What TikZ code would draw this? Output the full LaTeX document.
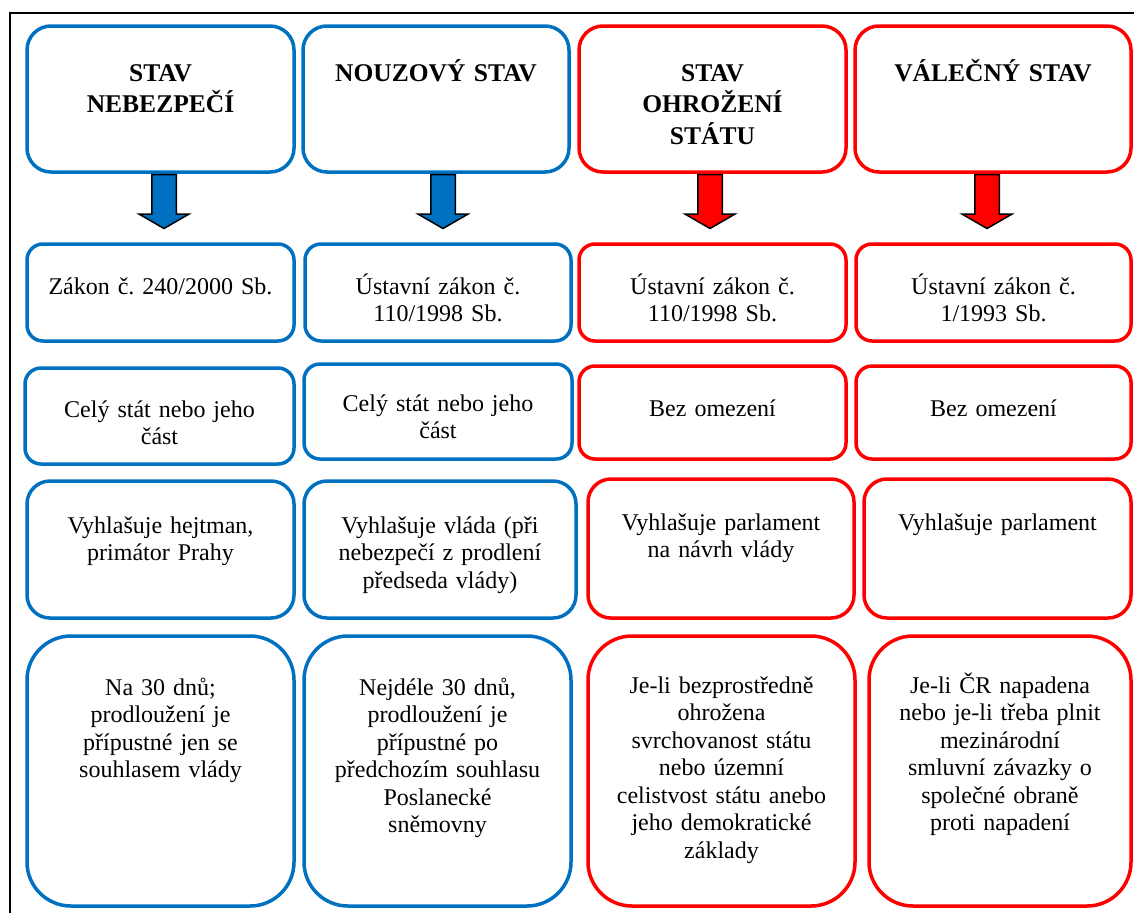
\documentclass[tikz,border=0pt]{standalone}
\usepackage{fontspec}
\setmainfont{Liberation Serif}
\frenchspacing
\usepackage{tikz}
\usetikzlibrary{shapes.arrows}
\definecolor{cblue}{RGB}{0,112,192}
\definecolor{cred}{RGB}{255,0,0}
\tikzset{
  box/.style = {draw, line width=3.5pt, inner sep=0pt, rounded corners=#1},
  box_b/.style = {box=#1, draw=cblue},% modry ramecek
  box_r/.style = {box=#1, draw=cred},% cerveny ramecek
  txt/.style = {align=center, text width=250pt, inner sep=0pt, anchor=base,
    font=\fontsize{24}{27.5}\selectfont},
  ttl/.style = {txt, font=\bfseries\fontsize{25.5}{31.5}\selectfont},% nadpis
  barrow/.style = {single arrow, draw=black, fill=#1, line width=1.5pt,
    inner xsep=0pt, inner ysep=11.5pt, single arrow head extend=12.5pt,
    single arrow tip angle=120, minimum height=54pt, rotate=-90, anchor=tail}
}

\begin{document}
\begin{tikzpicture}[x=1pt,y=1pt]
\useasboundingbox (0,0) rectangle (1134,-913);
\draw[line width=2.5pt] (10,-913) -- (10,-13) -- (1134,-13);

% nadpisy
\node [box_b=24pt, minimum width=267pt, minimum height=146pt] (h1) at (160.5,-99) {};
\node [box_b=24pt, minimum width=266pt, minimum height=146pt] (h2) at (436,-99) {};
\node [box_r=24pt, minimum width=267pt, minimum height=146pt] (h3) at (712.5,-99) {};
\node [box_r=24pt, minimum width=276pt, minimum height=146pt] (h4) at (993,-99) {};
\node at (h1.north) [ttl, yshift=-57pt] (h1t) {STAV\\NEBEZPEČÍ};
\node at (h2.north) [ttl, yshift=-57pt] (h2t) {NOUZOVÝ STAV};
\node at (h3.north) [ttl, yshift=-57pt] (h3t) {STAV\\OHROŽENÍ\\STÁTU};
\node at (h4.north) [ttl, yshift=-57pt] (h4t) {VÁLEČNÝ STAV};

% sipky
\node at ([xshift=3.5pt]h1.south) [barrow=cblue] (ar1) {};
\node at ([xshift=7pt]h2.south) [barrow=cblue] (ar2) {};
\node at ([xshift=-2.5pt]h3.south) [barrow=cred] (ar3) {};
\node at ([xshift=-6pt]h4.south) [barrow=cred] (ar4) {};

% zakony
\node [box_b=16pt, minimum width=267pt, minimum height=97pt] (l1) at (160.5,-292.5) {};
\node [box_b=16pt, minimum width=266pt, minimum height=97pt] (l2) at (438,-292.5) {};
\node [box_r=16pt, minimum width=267pt, minimum height=97pt] (l3) at (712.5,-292.5) {};
\node [box_r=16pt, minimum width=275pt, minimum height=97pt] (l4) at (993.5,-292.5) {};
\node at (l1.north) [txt, yshift=-52pt] (l1t) {Zákon č. 240/2000 Sb.};
\node at (l2.north) [txt, yshift=-52pt] (l2t) {Ústavní zákon č.\\110/1998 Sb.};
\node at (l3.north) [txt, yshift=-52pt] (l3t) {Ústavní zákon č.\\110/1998 Sb.};
\node at (l4.north) [txt, yshift=-52pt] (l4t) {Ústavní zákon č.\\1/1993 Sb.};

% uzemi
\node [box_b=16pt, minimum width=269pt, minimum height=96pt] (a1) at (159.5,-416) {};
\node [box_b=16pt, minimum width=268pt, minimum height=95pt] (a2) at (438,-411.5) {};
\node [box_r=16pt, minimum width=267pt, minimum height=93pt] (a3) at (712.5,-412.5) {};
\node [box_r=16pt, minimum width=275pt, minimum height=93pt] (a4) at (993.5,-412.5) {};
\node at (a1.north) [txt, yshift=-51pt] (a1t) {Celý stát nebo jeho\\část};
\node at (a2.north) [txt, yshift=-49pt] (a2t) {Celý stát nebo jeho\\část};
\node at (a3.north) [txt, yshift=-52pt] (a3t) {Bez omezení};
\node at (a4.north) [txt, yshift=-52pt] (a4t) {Bez omezení};

% kdo vyhlasuje
\node [box_b=23pt, minimum width=267pt, minimum height=137pt] (d1) at (160.5,-549.5) {};
\node [box_b=23pt, minimum width=272pt, minimum height=137pt] (d2) at (440,-549.5) {};
\node [box_r=23pt, minimum width=266pt, minimum height=139pt] (d3) at (721,-548.5) {};
\node [box_r=23pt, minimum width=267pt, minimum height=139pt] (d4) at (997.5,-548.5) {};
\node at (d1.north) [txt, yshift=-54pt] (d1t) {Vyhlašuje hejtman,\\primátor Prahy};
\node at (d2.north) [txt, yshift=-54pt] (d2t) {Vyhlašuje vláda (při\\nebezpečí z prodlení\\předseda vlády)};
\node at (d3.north) [txt, yshift=-53pt] (d3t) {Vyhlašuje parlament\\na návrh vlády};
\node at (d4.north) [txt, yshift=-53pt] (d4t) {Vyhlašuje parlament};

% doba trvani
\node [box_b=44pt, minimum width=267pt, minimum height=270pt] (t1) at (160.5,-771) {};
\node [box_b=44pt, minimum width=267pt, minimum height=270pt] (t2) at (437.5,-771) {};
\node [box_r=44pt, minimum width=267pt, minimum height=270pt] (t3) at (721.5,-771) {};
\node [box_r=44pt, minimum width=262pt, minimum height=270pt] (t4) at (1000,-771) {};
\node at (t1.north) [txt, yshift=-61pt] (t1t) {Na 30 dnů;\\prodloužení je\\přípustné jen se\\souhlasem vlády};
\node at (t2.north) [txt, yshift=-61pt] (t2t) {Nejdéle 30 dnů,\\prodloužení je\\přípustné po\\předchozím souhlasu\\Poslanecké\\sněmovny};
\node at (t3.north) [txt, yshift=-59pt] (t3t) {Je-li bezprostředně\\ohrožena\\svrchovanost státu\\nebo územní\\celistvost státu anebo\\jeho demokratické\\základy};
\node at (t4.north) [txt, yshift=-59pt] (t4t) {Je-li ČR napadena\\nebo je-li třeba plnit\\mezinárodní\\smluvní závazky o\\společné obraně\\proti napadení};
\end{tikzpicture}
\end{document}
